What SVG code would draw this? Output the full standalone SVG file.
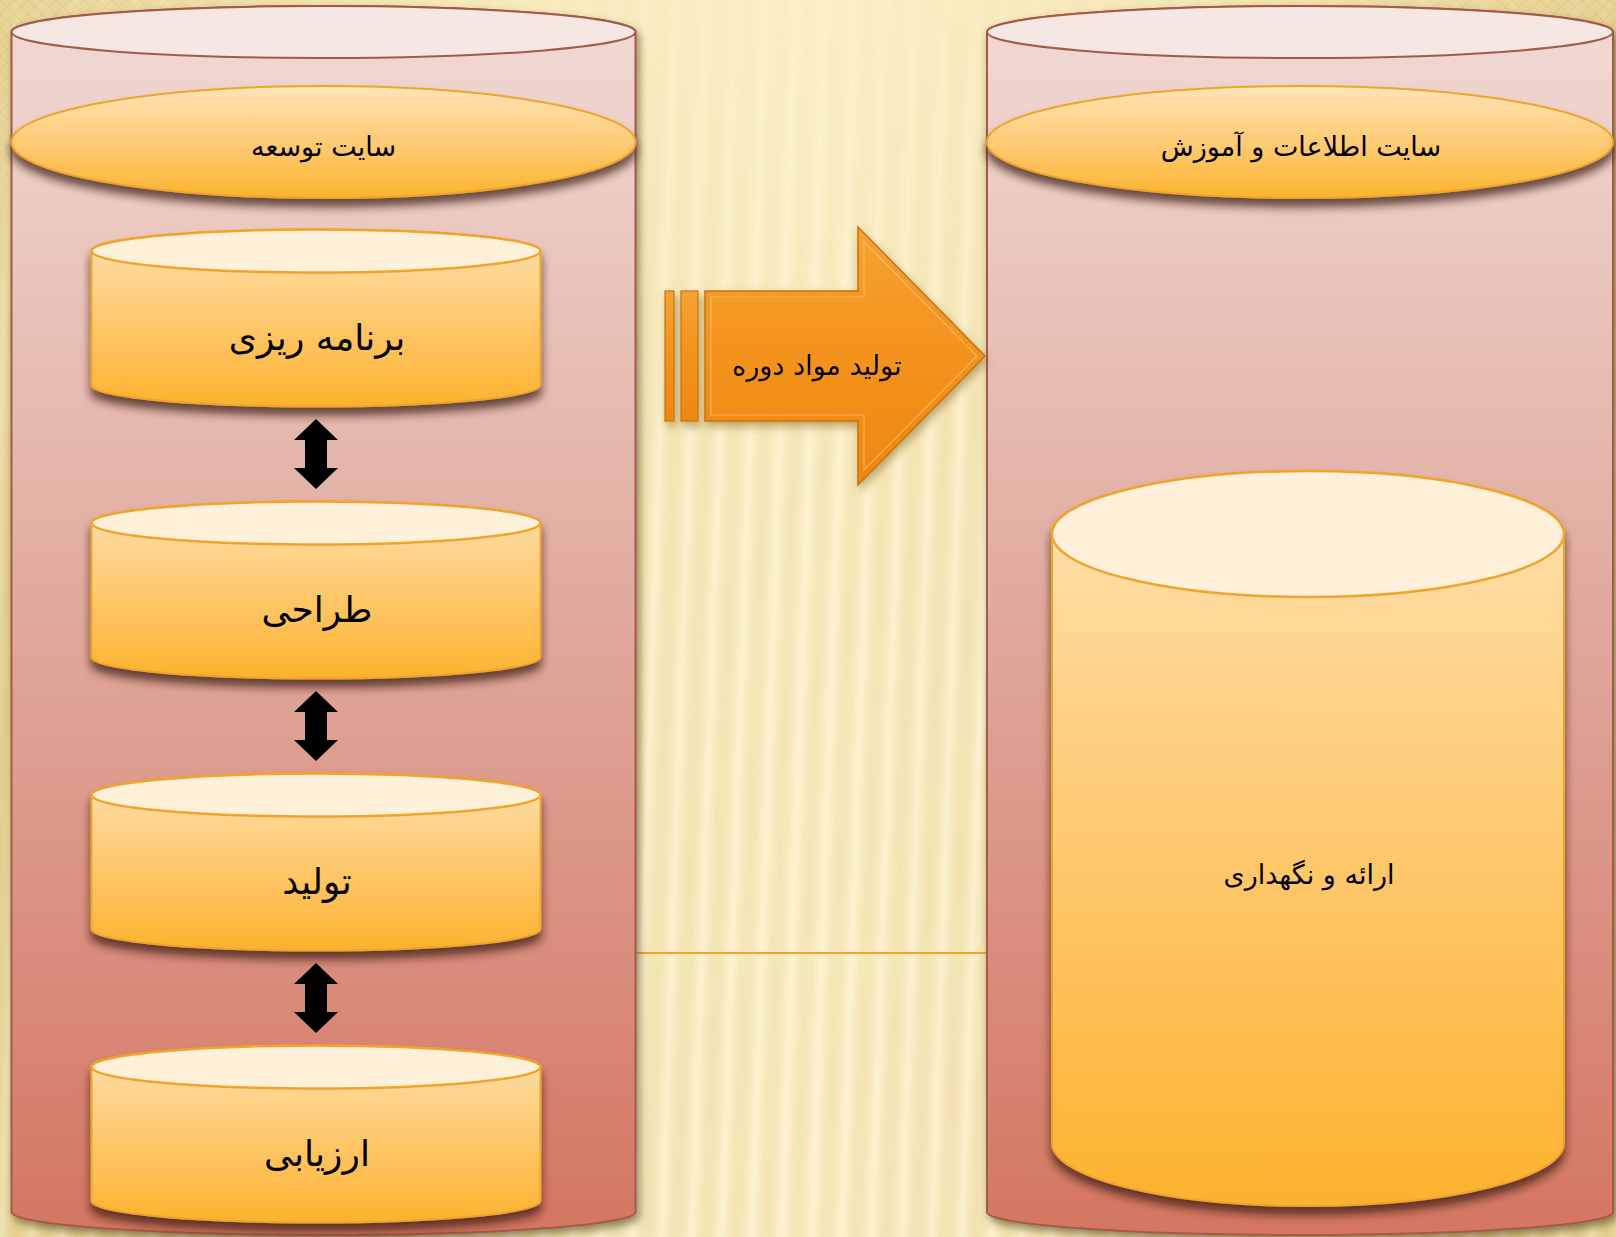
<svg xmlns="http://www.w3.org/2000/svg" xmlns:xlink="http://www.w3.org/1999/xlink" width="1616" height="1237" viewBox="0 0 1616 1237">
  <defs>
    <style>
      .lbl { font-family: "DejaVu Sans", "Noto Sans", sans-serif; fill: #000; text-anchor: middle; dominant-baseline: central; }
      .big { font-size: 36px; }
      .mid { font-size: 27px; }
      .outer-body { fill: url(#outerGrad); stroke: #A55A48; stroke-width: 2; }
      .outer-top { fill: #F5E7E4; stroke: #A55A48; stroke-width: 2; }
      .band { fill: url(#bandGrad); stroke: #F0A42C; stroke-width: 2; }
      .cyl-body { fill: url(#cylGrad); stroke: #F0A42C; stroke-width: 2; }
      .cyl-top { fill: #FFF0DA; stroke: #F0A42C; stroke-width: 2.5; }
      .dbl { fill: #000; }
    </style>

    <!-- background shading -->
    <linearGradient id="bgGrad" x1="0" y1="0" x2="1" y2="0">
      <stop offset="0" stop-color="#E8D496"/>
      <stop offset="0.25" stop-color="#F7E9B9"/>
      <stop offset="0.5" stop-color="#FCF1C9"/>
      <stop offset="0.75" stop-color="#F6E7B6"/>
      <stop offset="1" stop-color="#E6D293"/>
    </linearGradient>
    <linearGradient id="stripeGrad" x1="0" y1="0" x2="1" y2="0">
      <stop offset="0" stop-color="#D2B46A" stop-opacity="0.18"/>
      <stop offset="0.5" stop-color="#FFFBE6" stop-opacity="0.35"/>
      <stop offset="1" stop-color="#D2B46A" stop-opacity="0.18"/>
    </linearGradient>
    <pattern id="stripes" patternUnits="userSpaceOnUse" width="30" height="1237" patternTransform="skewX(-2)">
      <rect width="30" height="1237" fill="url(#stripeGrad)"/>
    </pattern>
    <pattern id="hatch" patternUnits="userSpaceOnUse" width="14" height="14">
      <path d="M0 0 L14 14 M14 0 L0 14" stroke="#D8BE78" stroke-width="1" fill="none"/>
    </pattern>
    <linearGradient id="stripeFade" x1="0" y1="0" x2="0" y2="1">
      <stop offset="0" stop-color="#fff" stop-opacity="0.25"/>
      <stop offset="0.35" stop-color="#fff" stop-opacity="0.9"/>
      <stop offset="1" stop-color="#fff" stop-opacity="1"/>
    </linearGradient>
    <mask id="stripeMask">
      <rect width="1616" height="1237" fill="url(#stripeFade)"/>
    </mask>
    <radialGradient id="cornerL" cx="0" cy="0" r="1">
      <stop offset="0" stop-color="#fff" stop-opacity="0.6"/>
      <stop offset="1" stop-color="#fff" stop-opacity="0"/>
    </radialGradient>
    <radialGradient id="cornerR" cx="1" cy="0" r="1">
      <stop offset="0" stop-color="#fff" stop-opacity="0.6"/>
      <stop offset="1" stop-color="#fff" stop-opacity="0"/>
    </radialGradient>
    <mask id="maskL"><rect x="0" y="0" width="300" height="300" fill="url(#cornerL)"/></mask>
    <mask id="maskR"><rect x="1316" y="0" width="300" height="300" fill="url(#cornerR)"/></mask>

    <!-- shape fills -->
    <linearGradient id="outerGrad" x1="0" y1="0" x2="0" y2="1">
      <stop offset="0" stop-color="#F1DAD5"/>
      <stop offset="0.5" stop-color="#E0A99C"/>
      <stop offset="1" stop-color="#D47662"/>
    </linearGradient>
    <linearGradient id="bandGrad" x1="0" y1="0" x2="0" y2="1">
      <stop offset="0" stop-color="#FFE5B8"/>
      <stop offset="0.5" stop-color="#FECB76"/>
      <stop offset="1" stop-color="#FDB42F"/>
    </linearGradient>
    <linearGradient id="cylGrad" x1="0" y1="0" x2="0" y2="1">
      <stop offset="0" stop-color="#FFE2B0"/>
      <stop offset="0.5" stop-color="#FEC970"/>
      <stop offset="1" stop-color="#FDB22F"/>
    </linearGradient>
    <linearGradient id="arrowGrad" x1="0" y1="0" x2="0" y2="1">
      <stop offset="0" stop-color="#F6A232"/>
      <stop offset="0.5" stop-color="#F3921C"/>
      <stop offset="1" stop-color="#EE8710"/>
    </linearGradient>

    <filter id="shadow" x="-10%" y="-10%" width="120%" height="135%">
      <feDropShadow dx="0" dy="8" stdDeviation="5" flood-color="#3B1A10" flood-opacity="0.75"/>
    </filter>
    <filter id="shadowOuter" x="-5%" y="-5%" width="110%" height="110%">
      <feDropShadow dx="3" dy="5" stdDeviation="4" flood-color="#4A3A10" flood-opacity="0.6"/>
    </filter>
    <filter id="shadowArrow" x="-10%" y="-10%" width="120%" height="130%">
      <feDropShadow dx="2" dy="5" stdDeviation="4" flood-color="#7A5010" flood-opacity="0.45"/>
    </filter>

    <path id="dblArrow" d="M0 0 L22 21 L11 21 L11 49 L22 49 L0 70 L-22 49 L-11 49 L-11 21 L-22 21 Z"/>
  </defs>

  <!-- backdrop -->
  <rect width="1616" height="1237" fill="url(#bgGrad)"/>
  <rect width="1616" height="1237" fill="url(#stripes)" mask="url(#stripeMask)"/>
  <rect x="0" y="0" width="300" height="300" fill="url(#hatch)" mask="url(#maskL)"/>
  <rect x="1316" y="0" width="300" height="300" fill="url(#hatch)" mask="url(#maskR)"/>
  <line x1="636" y1="953" x2="987" y2="953" stroke="#F0A42C" stroke-width="2"/>

  <!-- left column: development site -->
  <g id="dev-site" filter="url(#shadowOuter)">
    <path class="outer-body" d="M11.5 32 L11.5 1212 A312 23 0 0 0 635.5 1212 L635.5 32 A312 26 0 0 0 11.5 32 Z"/>
    <ellipse class="outer-top" cx="323.5" cy="32" rx="312" ry="26"/>
  </g>
  <g id="dev-site-title">
    <ellipse class="band" cx="323.5" cy="142" rx="312" ry="56" filter="url(#shadow)"/>
    <text class="lbl mid" x="323.5" y="146">سایت توسعه</text>
  </g>

  <!-- right column: information and training site -->
  <g id="info-site" filter="url(#shadowOuter)">
    <path class="outer-body" d="M987 32 L987 1212 A313 23 0 0 0 1613 1212 L1613 32 A313 26 0 0 0 987 32 Z"/>
    <ellipse class="outer-top" cx="1300" cy="32" rx="313" ry="26"/>
  </g>
  <g id="info-site-title">
    <ellipse class="band" cx="1300" cy="142" rx="313" ry="56" filter="url(#shadow)"/>
    <text class="lbl mid" x="1301" y="146">سایت اطلاعات و آموزش</text>
  </g>

  <!-- stages -->
  <g id="stage-planning">
    <path class="cyl-body" filter="url(#shadow)" d="M91.5 251 L91.5 385 A224.5 21.5 0 0 0 540.5 385 L540.5 251 A224.5 21.5 0 0 0 91.5 251 Z"/>
    <ellipse class="cyl-top" cx="316" cy="251" rx="224.5" ry="21.5"/>
    <text class="lbl big" x="317" y="337">برنامه ریزی</text>
  </g>
  <g id="stage-design">
    <path class="cyl-body" filter="url(#shadow)" d="M91.5 523 L91.5 657 A224.5 21.5 0 0 0 540.5 657 L540.5 523 A224.5 21.5 0 0 0 91.5 523 Z"/>
    <ellipse class="cyl-top" cx="316" cy="523" rx="224.5" ry="21.5"/>
    <text class="lbl big" x="317" y="609">طراحی</text>
  </g>
  <g id="stage-production">
    <path class="cyl-body" filter="url(#shadow)" d="M91.5 795 L91.5 929 A224.5 21.5 0 0 0 540.5 929 L540.5 795 A224.5 21.5 0 0 0 91.5 795 Z"/>
    <ellipse class="cyl-top" cx="316" cy="795" rx="224.5" ry="21.5"/>
    <text class="lbl big" x="317" y="881">تولید</text>
  </g>
  <g id="stage-evaluation">
    <path class="cyl-body" filter="url(#shadow)" d="M91.5 1067 L91.5 1201 A224.5 21.5 0 0 0 540.5 1201 L540.5 1067 A224.5 21.5 0 0 0 91.5 1067 Z"/>
    <ellipse class="cyl-top" cx="316" cy="1067" rx="224.5" ry="21.5"/>
    <text class="lbl big" x="317" y="1153">ارزیابی</text>
  </g>

  <!-- delivery and maintenance store -->
  <g id="delivery">
    <path class="cyl-body" filter="url(#shadow)" d="M1052 534 L1052 1143 A256 63 0 0 0 1564 1143 L1564 534 A256 63 0 0 0 1052 534 Z"/>
    <ellipse class="cyl-top" cx="1308" cy="534" rx="256" ry="63"/>
    <text class="lbl mid" x="1309" y="874">ارائه و نگهداری</text>
  </g>

  <!-- course material production arrow -->
  <g id="material-arrow" filter="url(#shadowArrow)">
    <rect x="665" y="291" width="9" height="130" fill="url(#arrowGrad)" stroke="#C47410" stroke-width="1.2"/>
    <rect x="681" y="291" width="17" height="130" fill="url(#arrowGrad)" stroke="#C47410" stroke-width="1.2"/>
    <path d="M705 291 L858 291 L858 227 L985 356 L858 485 L858 421 L705 421 Z" fill="url(#arrowGrad)" stroke="#C47410" stroke-width="1.5"/>
    <path d="M711 297 L864 297 L864 242 L977 356 L864 470 L864 415 L711 415 Z" fill="none" stroke="#FBC270" stroke-width="1.2" opacity="0.7"/>
    <text class="lbl mid" x="817" y="365">تولید مواد دوره</text>
  </g>

  <!-- links between stages -->
  <g id="connectors">
    <use href="#dblArrow" class="dbl" x="316" y="419"/>
    <use href="#dblArrow" class="dbl" x="316" y="691"/>
    <use href="#dblArrow" class="dbl" x="316" y="963"/>
  </g>
</svg>
